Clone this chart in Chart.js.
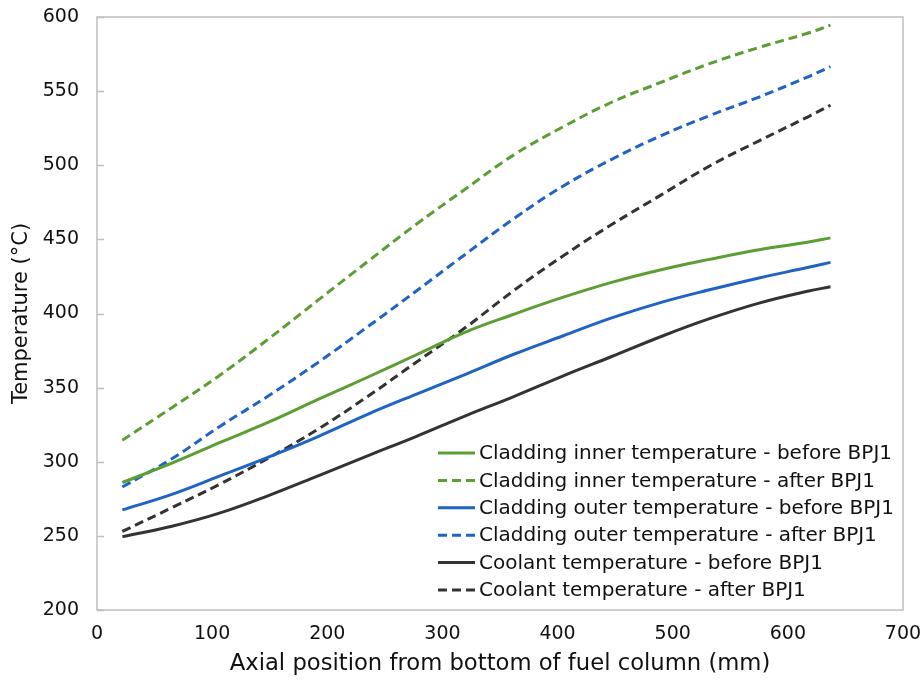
<!DOCTYPE html>
<html>
<head>
<meta charset="utf-8">
<script src="https://cdn.jsdelivr.net/npm/chart.js@4.4.1/dist/chart.umd.min.js"></script>
<style>
  html, body { margin: 0; padding: 0; background: #fff; }
</style>
</head>
<body>
<canvas id="temp-chart" width="922" height="682"></canvas>
<script>
// axial position (mm) and temperatures (°C)
var axialPosition = [22, 65, 107, 150, 192, 235, 277, 320, 362, 405, 447, 490, 532, 575, 617, 637];

var innerBefore   = [286, 299, 313, 327, 342, 357, 372, 387.5, 399.5, 411, 421, 429.5, 436.5, 443, 448, 451];
var innerAfter    = [314.5, 336.5, 358.5, 383.5, 409, 435, 460, 484, 507, 526, 542.5, 556, 568.5, 579.5, 589, 594.5];
var outerBefore   = [267.5, 278, 290.5, 303.5, 317, 332, 345.5, 359, 372.5, 385, 397, 407.5, 416, 424, 431, 434.5];
var outerAfter    = [283, 302, 324, 345, 367, 391, 415, 440, 464, 486, 504, 520, 533.5, 546, 559.5, 566.5];
var coolantBefore = [249.5, 256.5, 265.5, 277.5, 290.5, 304, 317, 331, 344, 358, 371, 384.5, 396.5, 407, 415, 418];
var coolantAfter  = [253, 269, 285, 303, 322, 344, 367, 390.5, 415.5, 439, 460, 480, 499.5, 516.5, 532.5, 540.5];

var seriesLabels = [
    'Cladding inner temperature - before BPJ1',
    'Cladding inner temperature - after BPJ1',
    'Cladding outer temperature - before BPJ1',
    'Cladding outer temperature - after BPJ1',
    'Coolant temperature - before BPJ1',
    'Coolant temperature - after BPJ1'
];
var seriesValues = [innerBefore, innerAfter, outerBefore, outerAfter, coolantBefore, coolantAfter];
var seriesColors = ['#5b9e34', '#5b9e34', '#1f63c4', '#1f63c4', '#333333', '#333333'];
var seriesDashed = [false, true, false, true, false, true];

var FONT = 'DejaVu Sans, Verdana, sans-serif';
var TEXT = '#111111';

function toPoints(values) {
    return values.map((v, i) => ({ x: axialPosition[i], y: v }));
}

// gray box round the plot area, inner tick marks on the y axis, and the legend inside
var plotExtras = {
    id: 'plotExtras',
    beforeDatasetsDraw(chart) {
        var a = chart.chartArea, ctx = chart.ctx, yScale = chart.scales.y;
        ctx.save();
        ctx.strokeStyle = '#bfbfbf';
        ctx.lineWidth = 1.5;
        ctx.strokeRect(a.left, a.top, a.right - a.left, a.bottom - a.top);
        yScale.ticks.forEach(t => {
            var py = Math.round(yScale.getPixelForValue(t.value)) + 0.5;
            ctx.beginPath();
            ctx.moveTo(a.left, py);
            ctx.lineTo(a.left + 7, py);
            ctx.stroke();
        });
        ctx.restore();
    },
    afterDraw(chart) {
        var a = chart.chartArea, ctx = chart.ctx;
        ctx.save();
        ctx.font = '20px ' + FONT;
        ctx.textBaseline = 'middle';
        ctx.fillStyle = TEXT;
        var n = chart.data.datasets.length;
        chart.data.datasets.forEach((ds, i) => {
            var y = a.bottom - 20 - (n - 1 - i) * 27.4;
            var x0 = a.left + 341;
            ctx.strokeStyle = ds.borderColor;
            ctx.lineWidth = 3;
            ctx.setLineDash(ds.borderDash || []);
            ctx.beginPath();
            ctx.moveTo(x0, y);
            ctx.lineTo(x0 + 37, y);
            ctx.stroke();
            ctx.setLineDash([]);
            ctx.fillText(ds.label, x0 + 41, y + 1);
        });
        ctx.restore();
    }
};

var ctx = document.getElementById('temp-chart').getContext('2d');

var tempChart = new Chart(ctx, {
    type: 'line',
    data: {
        datasets: seriesLabels.map((label, i) => ({
            label: label,
            data: toPoints(seriesValues[i]),
            borderColor: seriesColors[i],
            backgroundColor: seriesColors[i],
            borderWidth: 3,
            borderDash: seriesDashed[i] ? [9, 5] : [],
            pointRadius: 0,
            tension: 0.4,
            fill: false
        }))
    },
    options: {
        responsive: false,
        animation: false,
        layout: {
            padding: { top: 17, right: 19, bottom: 0, left: 0 }
        },
        plugins: {
            legend: { display: false },
            tooltip: { enabled: false }
        },
        scales: {
            x: {
                type: 'linear',
                min: 0,
                max: 700,
                ticks: {
                    stepSize: 100,
                    padding: 13,
                    color: TEXT,
                    font: { family: FONT, size: 19 }
                },
                grid: { display: false, drawTicks: false },
                border: { display: false },
                title: {
                    display: true,
                    text: 'Axial position from bottom of fuel column (mm)',
                    color: TEXT,
                    font: { family: FONT, size: 22.7 },
                    padding: { top: 4, bottom: 4 }
                },
                afterFit(scale) {
                    scale.height = 72;
                    scale.paddingLeft = 0;
                    scale.paddingRight = 0;
                }
            },
            y: {
                min: 200,
                max: 600,
                ticks: {
                    stepSize: 50,
                    padding: 18,
                    color: TEXT,
                    font: { family: FONT, size: 19 }
                },
                grid: { display: false, drawTicks: false },
                border: { display: false },
                title: {
                    display: true,
                    text: 'Temperature (°C)',
                    color: TEXT,
                    font: { family: FONT, size: 21 },
                    padding: { top: 9, bottom: 9 }
                },
                afterFit(scale) {
                    scale.width = 97;
                    scale.paddingTop = 0;
                    scale.paddingBottom = 0;
                }
            }
        }
    },
    plugins: [plotExtras]
});
</script>
</body>
</html>
